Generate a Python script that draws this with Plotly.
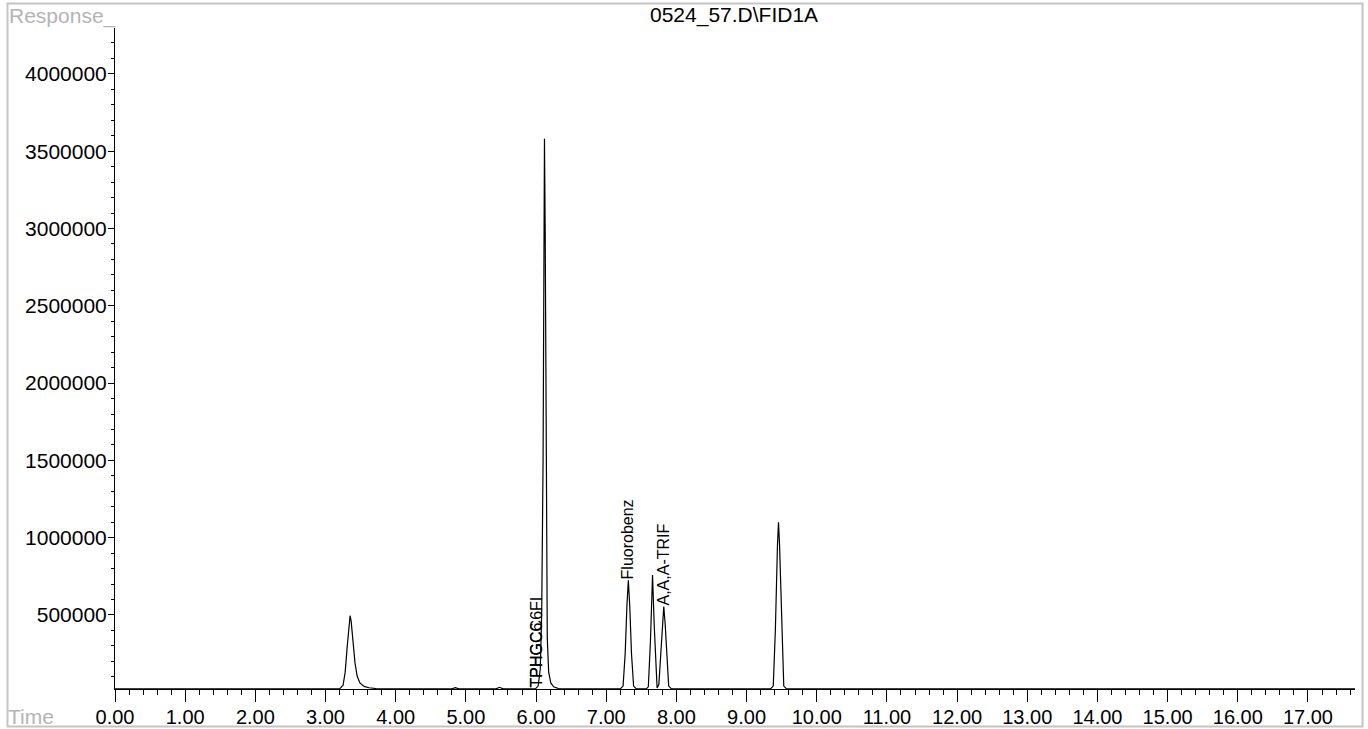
import plotly.graph_objects as go

# ---- data ----
time_min = [
    0.00, 3.20, 3.25, 3.28, 3.31, 3.335, 3.35, 3.365, 3.39, 3.42, 3.45, 3.49, 3.55, 3.62, 3.72, 3.85,
    4.80, 4.85, 4.90, 5.43, 5.48, 5.53,
    5.99, 6.03, 6.06, 6.08, 6.10, 6.11, 6.12, 6.13, 6.14, 6.15, 6.16, 6.18, 6.21, 6.25, 6.32, 6.40,
    7.20, 7.24, 7.27, 7.295, 7.315, 7.335, 7.36, 7.39, 7.43,
    7.57, 7.60, 7.63, 7.66, 7.685, 7.71, 7.725,
    7.75, 7.78, 7.805, 7.82, 7.84, 7.865, 7.89, 7.93,
    9.34, 9.38, 9.41, 9.44, 9.455, 9.47, 9.50, 9.53, 9.57,
    17.67,
]
response = [
    22000, 22000, 45000, 130000, 300000, 450000, 495000, 460000, 330000, 190000, 105000, 60000, 38000, 29000, 24000, 22000,
    22000, 30000, 22000, 22000, 32000, 22000,
    22000, 40000, 150000, 500000, 1500000, 2600000, 3580000, 3000000, 1900000, 800000, 350000, 130000, 60000, 35000, 24000, 22000,
    22000, 40000, 250000, 560000, 725000, 560000, 250000, 40000, 22000,
    22000, 35000, 330000, 758000, 420000, 90000, 28000,
    50000, 270000, 500000, 555000, 440000, 200000, 40000, 22000,
    22000, 40000, 400000, 950000, 1100000, 950000, 400000, 40000, 22000,
    22000,
]

peak_labels = ["TPHGC6", "TPHGCC6FI", "Fluorobenz", "A,A,A-TRIF"]
peak_label_x = [6.00, 6.00, 7.30, 7.81]
peak_label_y = [22000, 22000, 725000, 555000]

title_text = "0524_57.D\\FID1A"
y_title = "Response_"
x_title = "Time"

# ---- figure ----
W, H = 1368, 729
L, R, T, B = 115, 13, 28, 40
pw, ph = W - L - R, H - T - B


def px(xp):
    return (xp - L) / pw


def py(yp):
    return (H - B - yp) / ph


FONT = "Liberation Sans, Arial, sans-serif"

fig = go.Figure()
fig.add_trace(go.Scatter(
    x=time_min, y=response, mode="lines",
    line=dict(color="black", width=1.2),
    hoverinfo="x+y", showlegend=False,
))

annotations = []
for txt, xv, yv in zip(peak_labels, peak_label_x, peak_label_y):
    annotations.append(dict(
        x=xv, y=yv, xref="x", yref="y", text=txt, textangle=-90,
        showarrow=False, xanchor="center", yanchor="bottom",
        font=dict(family=FONT, size=16, color="black"), borderpad=0,
    ))

annotations += [
    dict(x=px(734), y=py(15), xref="paper", yref="paper", text=title_text,
         showarrow=False, xanchor="center", yanchor="middle",
         font=dict(family=FONT, size=21, color="black")),
    dict(x=px(7), y=py(16), xref="paper", yref="paper", text=y_title,
         showarrow=False, xanchor="left", yanchor="middle",
         font=dict(family=FONT, size=21, color="#b4b4b4")),
    dict(x=px(6), y=py(716), xref="paper", yref="paper", text=x_title,
         showarrow=False, xanchor="left", yanchor="middle",
         font=dict(family=FONT, size=21, color="#b4b4b4")),
]

fig.update_layout(
    width=W, height=H,
    margin=dict(l=L, r=R, t=T, b=B, pad=0, autoexpand=False),
    paper_bgcolor="white", plot_bgcolor="white",
    font=dict(family=FONT, color="black"),
    annotations=annotations,
    shapes=[dict(type="rect", xref="paper", yref="paper",
                 x0=px(7.5), x1=px(1362.5), y0=py(726.5), y1=py(3.5),
                 line=dict(color="#c4c4c4", width=2), fillcolor="rgba(0,0,0,0)",
                 layer="below")],
)

fig.update_xaxes(
    range=[0, 17.67], showgrid=False, zeroline=False, automargin=False,
    showline=True, linecolor="black", linewidth=1,
    ticks="outside", ticklen=12, tickcolor="black", tickwidth=1,
    dtick=1, tick0=0, tickformat=".2f", ticklabelstandoff=-2,
    tickfont=dict(family=FONT, size=20, color="black"),
    minor=dict(dtick=0.2, tick0=0, ticks="outside", ticklen=5, tickcolor="black", showgrid=False),
)
fig.update_yaxes(
    range=[21000, 4297000], showgrid=False, zeroline=False, automargin=False,
    showline=True, linecolor="black", linewidth=1,
    ticks="outside", ticklen=6, tickcolor="black", tickwidth=1,
    dtick=500000, tick0=0, tickformat="d", ticklabelstandoff=-3,
    tickfont=dict(family=FONT, size=21, color="black"),
    minor=dict(dtick=100000, tick0=0, ticks="outside", ticklen=3, tickcolor="black", showgrid=False),
)

fig.write_html(
    "out.html",
    config={"displayModeBar": False},
    post_script="document.body.style.margin='0';document.body.style.overflow='hidden';",
)
